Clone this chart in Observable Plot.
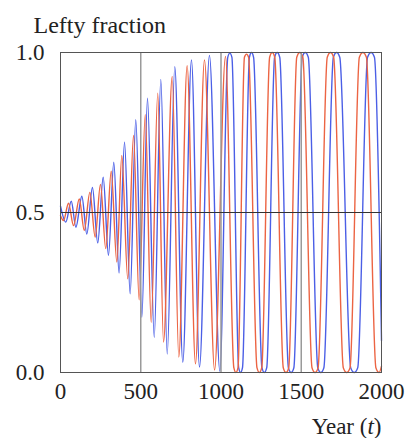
<!DOCTYPE html>
<html>
<head>
<meta charset="utf-8">
<script src="https://cdn.jsdelivr.net/npm/d3@7"></script>
<script src="https://cdn.jsdelivr.net/npm/@observablehq/plot@0.6"></script>
<style>
  html, body { margin: 0; padding: 0; background: #fff; }
</style>
</head>
<body>
<div id="chart"></div>
<script>
// ---- Data ----
const xTicks = [0, 500, 1000, 1500, 2000];
const yTicks = [0, 0.5, 1];
const gridYears = [500, 1000, 1500];
const midLine = [0.5];
const yLabel = "Lefty fraction";
const xLabel = "Year (t)";

// Blue series: extrema (and shoulder points of saturated swings)
const blueT = [0, 33, 67, 96, 133, 164, 199, 232, 266, 299, 332, 365, 399, 434, 469, 507, 542, 584, 625, 665,
  712, 762, 816, 866, 928, 993,
  1042, 1055, 1068, 1110, 1122, 1134, 1177, 1190, 1203, 1255, 1270, 1285, 1334, 1350, 1366,
  1420, 1437, 1454, 1506, 1525, 1544, 1603, 1622, 1641, 1700, 1720, 1740, 1808, 1830, 1852,
  1913, 1935, 1956, 2000];
const blueV = [0.52, 0.47, 0.535, 0.454, 0.551, 0.433, 0.578, 0.405, 0.61, 0.366, 0.657, 0.311, 0.72, 0.246, 0.79, 0.173, 0.857, 0.11, 0.916, 0.058,
  0.956, 0.032, 0.977, 0.017, 0.991, 0.004,
  0.985, 0.998, 0.985, 0.015, 0, 0.015, 0.985, 1, 0.985, 0.015, 0, 0.015, 0.985, 1, 0.985,
  0.015, 0, 0.015, 0.985, 1, 0.985, 0.015, 0, 0.015, 0.985, 1, 0.985, 0.015, 0, 0.015,
  0.985, 1, 0.985, 0.1];

// Red series
const redT = [0, 19, 50, 81, 117, 148, 183, 216, 249, 282, 316, 351, 382, 419, 455, 490, 528, 565, 606, 642,
  696, 737, 789, 841, 897, 960, 1028,
  1080, 1093, 1106, 1146, 1159, 1172, 1224, 1239, 1254, 1303, 1319, 1335, 1388, 1405, 1422,
  1472, 1491, 1510, 1567, 1586, 1605, 1662, 1682, 1702, 1762, 1783, 1804, 1862, 1884, 1906,
  1965, 1985, 2000];
const redV = [0.49, 0.475, 0.529, 0.459, 0.542, 0.444, 0.563, 0.423, 0.588, 0.387, 0.629, 0.345, 0.678, 0.293, 0.741, 0.227, 0.806, 0.157, 0.873, 0.095,
  0.925, 0.048, 0.959, 0.027, 0.977, 0.008, 0.988,
  0.015, 0, 0.015, 0.985, 0.995, 0.985, 0.015, 0, 0.015, 0.985, 1, 0.985, 0.015, 0, 0.015,
  0.985, 1, 0.985, 0.015, 0, 0.015, 0.985, 1, 0.985, 0.015, 0, 0.015, 0.985, 1, 0.985,
  0.015, 0, 0.02];

const blueColor = "#4b5fe6";
const redColor = "#ec6443";

const blueData = blueT.map((t, i) => ({t, v: blueV[i]}));
const redData = redT.map((t, i) => ({t, v: redV[i]}));

const chart = Plot.plot({
  width: 409,
  height: 438,
  marginLeft: 60,
  marginRight: 28,
  marginTop: 52,
  marginBottom: 66,
  style: {fontFamily: "'Liberation Serif', 'Times New Roman', serif", fontSize: "23px", background: "#fff", color: "#222", overflow: "visible"},
  x: {domain: [0, 2000], ticks: xTicks, tickSize: 0, tickPadding: 10, label: null, tickFormat: d => String(d)},
  y: {domain: [0, 1], ticks: yTicks, tickSize: 0, tickPadding: 16, label: null, tickFormat: d3.format(".1f")},
  marks: [
    Plot.lineY(blueData, {x: "t", y: "v", stroke: blueColor, strokeWidth: 1.4, curve: "monotone-x"}),
    Plot.lineY(redData, {x: "t", y: "v", stroke: redColor, strokeWidth: 1.4, curve: "monotone-x"}),
    Plot.ruleX(gridYears, {stroke: "#9a9a9a", strokeWidth: 1.5}),
    Plot.ruleY(midLine, {stroke: "#333", strokeWidth: 1}),
    Plot.frame({stroke: "#555", strokeWidth: 1}),
    Plot.text([yLabel], {text: d => d, frameAnchor: "top-left", dx: -27, dy: -20, textAnchor: "start", lineAnchor: "bottom", fontSize: 24, fill: "#222"}),
    Plot.text([xLabel], {text: d => d, frameAnchor: "bottom-right", dy: 61, textAnchor: "end", lineAnchor: "bottom", fontSize: 23, fill: "#222"})
  ]
});

// italicize the "t" in the x label
chart.querySelectorAll("text").forEach(el => {
  if (el.textContent === xLabel) {
    el.textContent = "";
    const ns = "http://www.w3.org/2000/svg";
    const parts = [["Year (", null], ["t", "italic"], [")", null]];
    for (const [s, st] of parts) {
      const ts = document.createElementNS(ns, "tspan");
      ts.textContent = s;
      if (st) ts.setAttribute("font-style", st);
      el.appendChild(ts);
    }
  }
});

document.getElementById("chart").appendChild(chart);
</script>
</body>
</html>
